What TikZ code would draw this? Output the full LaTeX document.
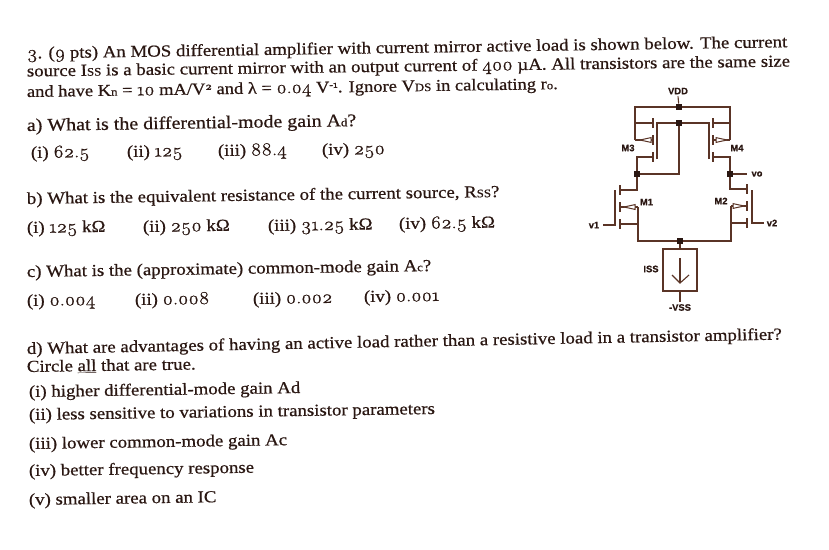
\documentclass[tikz,border=0pt]{standalone}
\usepackage{fontspec}
\setmainfont{Liberation Serif}[FakeStretch=1.12,FakeBold=0.6]
\newfontfamily\osfont{Latin Modern Roman}[Numbers=OldStyle,FakeBold=1,FakeStretch=1.1,Scale=1.08]
\newfontfamily\lblfont{Liberation Sans}[FakeBold=0.5]
\definecolor{ink}{HTML}{2A1712}
\definecolor{wire}{HTML}{5A3426}
\newcommand\low[1]{{\fontsize{11.5}{12}\selectfont #1}}
\newcommand\up[1]{\raisebox{4.5pt}{\fontsize{10}{11}\selectfont #1}}
\newcommand\nm[1]{{\osfont #1}}
\tikzset{
 txt/.style={anchor=base west,inner sep=0pt,outer sep=0pt,text=ink,rotate=#1,font=\fontsize{16.8}{18}\selectfont},
 txt/.default=0.85,
 lbl/.style={inner sep=0pt,text=ink,font=\lblfont\bfseries\fontsize{9.4}{10}\selectfont},
 wr/.style={draw=wire,line width=1.1pt},
 jn/.style={fill=ink,minimum size=6.5pt,inner sep=0pt,draw=none,rectangle},
 csrc/.style={draw=wire,line width=1.1pt,minimum width=34pt,minimum height=42pt,inner sep=0pt},
}
\newcommand\tri[3]{\draw[wire,line width=1pt,fill=white] (#1,#2) -- (#1+#3,#2-2.4) -- (#1+#3,#2+2.4) -- cycle;}
\newcommand\tick[2]{\draw[wr] (#1,#2-5) -- (#1,#2+5);}
\begin{document}
\begin{tikzpicture}[x=1pt,y=-1pt]
\useasboundingbox[fill=white] (0,0) rectangle (829,549);
% Text
\node[txt] (l1) at (27,58.5) {\nm{3}. (\nm{9} pts) An MOS differential amplifier with current mirror active load is shown below. The current};
\node[txt=0.75] (l2) at (27,76.5) {source I\low{SS} is a basic current mirror with an output current of \nm{400} µA. All transistors are the same size};
\node[txt,font=\fontsize{16.5}{18}\selectfont] (l3) at (27,97) {and have K\low{n} = \nm{10} mA/V\up{\nm{2}} and λ = \nm{0.04} V\up{-\nm{1}}. Ignore V\low{DS} in calculating r\low{o}.};
\node[txt,font=\fontsize{17.8}{19}\selectfont] (a) at (27,131) {a) What is the differential-mode gain A\low{d}?};
\node[txt] (a1) at (31,158) {(i) \nm{62.5}};
\node[txt] (a2) at (127,157) {(ii) \nm{125}};
\node[txt] (a3) at (218,156) {(iii) \nm{88.4}};
\node[txt] (a4) at (322,155) {(iv) \nm{250}};
\node[txt] (b) at (27,204) {b) What is the equivalent resistance of the current source, R\low{SS}?};
\node[txt] (b1) at (27,233) {(i) \nm{125} kΩ};
\node[txt] (b2) at (143,232) {(ii) \nm{250} kΩ};
\node[txt] (b3) at (268,231) {(iii) \nm{31.25} kΩ};
\node[txt] (b4) at (399,229) {(iv) \nm{62.5} kΩ};
\node[txt] (c) at (27,277) {c) What is the (approximate) common-mode gain A\low{c}?};
\node[txt] (c1) at (27,306) {(i) \nm{0.004}};
\node[txt] (c2) at (135,305) {(ii) \nm{0.008}};
\node[txt] (c3) at (253,304) {(iii) \nm{0.002}};
\node[txt] (c4) at (364,302) {(iv) \nm{0.001}};
\node[txt=1.1] (d) at (27,354) {d) What are advantages of having an active load rather than a resistive load in a transistor amplifier?};
\node[txt] (d0) at (27,372) {Circle \underline{all} that are true.};
\node[txt] (d1) at (29,397) {(i) higher differential-mode gain Ad};
\node[txt] (d2) at (29,420) {(ii) less sensitive to variations in transistor parameters};
\node[txt] (d3) at (29,449) {(iii) lower common-mode gain Ac};
\node[txt] (d4) at (29,476) {(iv) better frequency response};
\node[txt] (d5) at (29,505) {(v) smaller area on an IC};
% Circuit junctions
\node[jn] (vddj) at (679,107) {};
\node[jn] (gj) at (679,123) {};
\node[jn] (lj) at (637,174) {};
\node[jn] (rj) at (730,174) {};
\node[jn] (sj) at (680,241) {};
\node[csrc] (iss) at (680,270) {};
\node[lbl] (vdd) at (678,91) {VDD};
\node[lbl] (m3) at (628,148) {M3};
\node[lbl] (m4) at (737,148) {M4};
\node[lbl] (m1) at (646.5,202) {M1};
\node[lbl] (m2) at (721,201) {M2};
\node[lbl] (vo) at (757,174) {vo};
\node[lbl] (v1) at (594,225) {v1};
\node[lbl] (v2) at (772,223) {v2};
\node[lbl] (isslbl) at (651,269) {ISS};
\node[lbl] (vss) at (680,307.5) {-VSS};
% Supply and rails
\draw[wr] ([yshift=-2pt]vdd.south) -- (vddj);
\draw[wr] (635,140) -- (635,107) -- (vddj) -- (730,107) -- (730,140);
% M3
\draw[wr] (635,123) -- (653,123); \tick{653}{123};
\draw[wr] (635,140) -- (653,140); \tick{653}{140};
\draw[wr] (653,157) -- (637,157) -- (lj); \tick{653}{157};
\tri{640}{140}{11}
\draw[wr] (657,159) -- (657,123) -- (gj);
% M4
\draw[wr] (730,123) -- (713,123); \tick{713}{123};
\draw[wr] (730,140) -- (713,140); \tick{713}{140};
\draw[wr] (713,157) -- (730,157) -- (rj); \tick{713}{157};
\tri{727}{140}{-11}
\draw[wr] (709,159) -- (709,123) -- (gj);
% Diode connection
\draw[wr] (gj) -- (679,174) -- (lj);
\draw[wr] (rj) -- (747,174);
% M1
\draw[wr] (lj) -- (637,190) -- (620,190); \tick{620}{190};
\draw[wr] (620,207) -- (638,207); \tick{620}{207};
\draw[wr] (620,224) -- (638,224); \tick{620}{224};
\tri{624}{207}{11}
\draw[wr] (638,207) -- (638,241) -- (sj);
\draw[wr] (615,190) -- (615,225) -- (603,225);
% M2
\draw[wr] (rj) -- (730,189) -- (747,189); \tick{747}{189};
\draw[wr] (747,206) -- (731,206); \tick{747}{206};
\draw[wr] (747,223) -- (731,223); \tick{747}{223};
\tri{744}{206}{-11}
\draw[wr] (731,206) -- (731,241) -- (sj);
\draw[wr] (752,190) -- (752,223) -- (764,223);
% Current source
\draw[wr] (sj) -- (iss.north);
\draw[wr] (iss.south) -- ([yshift=2pt]iss.south |- vss.north);
\draw[wr] (680,258) -- (680,283);
\draw[wr] (672,275) -- (680,283) -- (689,275);
\end{tikzpicture}
\end{document}
